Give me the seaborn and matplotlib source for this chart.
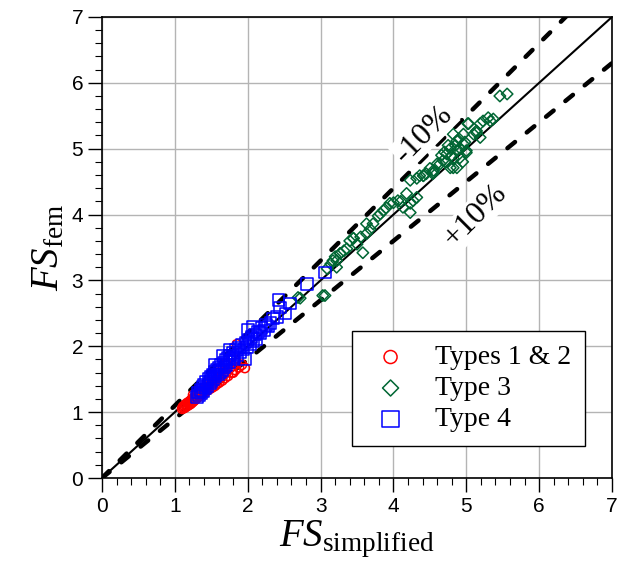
import numpy as np
import pandas as pd
import matplotlib
matplotlib.use('Agg')
import matplotlib.pyplot as plt
from matplotlib.ticker import MultipleLocator
import seaborn as sns

# data
red_x = [1.10, 1.11, 1.12, 1.13, 1.14, 1.15, 1.16, 1.17, 1.18, 1.19, 1.20, 1.21, 1.22, 1.23,
         1.24, 1.25, 1.26, 1.27, 1.28, 1.29, 1.30, 1.31, 1.32, 1.33, 1.34, 1.35, 1.36, 1.38,
         1.39, 1.40, 1.42, 1.43, 1.45, 1.46, 1.48, 1.49, 1.50, 1.52, 1.53, 1.55, 1.56, 1.58,
         1.60, 1.61, 1.63, 1.65, 1.67, 1.69, 1.71, 1.73, 1.75, 1.78, 1.80, 1.83, 1.85, 1.88,
         1.92, 1.96, 1.85, 1.80, 1.60, 1.45, 1.35, 1.25, 1.70, 1.78]
red_y = [1.05, 1.08, 1.06, 1.10, 1.07, 1.12, 1.09, 1.14, 1.10, 1.13, 1.16, 1.12, 1.18, 1.14,
         1.20, 1.16, 1.22, 1.18, 1.24, 1.20, 1.26, 1.22, 1.28, 1.24, 1.30, 1.26, 1.32, 1.28,
         1.34, 1.30, 1.36, 1.32, 1.38, 1.34, 1.40, 1.36, 1.43, 1.38, 1.46, 1.40, 1.48, 1.43,
         1.51, 1.45, 1.54, 1.48, 1.57, 1.52, 1.60, 1.55, 1.66, 1.60, 1.70, 1.64, 1.75, 1.68,
         1.72, 1.67, 2.03, 1.60, 1.60, 1.45, 1.36, 1.26, 1.73, 1.84]

green_x = [2.69, 2.72, 3.06, 3.03, 3.09, 3.17, 3.22, 3.22, 3.27, 3.27, 3.36, 3.40, 3.45, 3.45,
           3.58, 3.63, 3.63, 3.72, 3.79, 3.82, 3.86, 3.95, 4.00, 4.06, 4.13, 4.18, 4.23, 4.23,
           4.23, 4.27, 4.32, 4.32, 4.36, 4.41, 4.41, 4.54, 4.55, 4.55, 4.60, 4.64, 4.68, 4.73,
           4.78, 4.78, 4.82, 4.82, 4.82, 4.87, 4.87, 4.87, 4.91, 4.96, 4.96, 5.00, 5.00, 5.02,
           5.03, 5.10, 5.14, 5.14, 5.19, 5.19, 5.23, 5.30, 5.33, 5.37, 5.46, 5.56, 4.70, 4.75,
           4.85, 4.92, 4.98, 4.66, 4.72, 4.80, 4.90, 4.95, 3.50, 3.55, 3.68, 3.90, 4.10, 4.45,
           4.50, 3.32, 3.14, 3.20]
green_y = [2.74, 2.73, 2.77, 2.77, 3.18, 3.30, 3.30, 3.20, 3.41, 3.41, 3.48, 3.60, 3.64, 3.64,
           3.42, 3.71, 3.86, 3.86, 3.98, 4.01, 4.06, 4.17, 4.18, 4.21, 4.11, 4.32, 4.52, 4.03,
           4.17, 4.21, 4.55, 4.26, 4.59, 4.59, 4.59, 4.62, 4.67, 4.64, 4.77, 4.77, 4.82, 4.92,
           5.00, 4.71, 5.22, 4.71, 4.85, 5.12, 4.71, 4.97, 4.86, 5.07, 5.22, 4.97, 4.94, 5.38,
           5.38, 5.22, 5.24, 5.27, 5.17, 5.38, 5.42, 5.47, 5.42, 5.45, 5.80, 5.83, 4.95, 5.05,
           5.05, 5.00, 5.10, 4.90, 4.80, 4.90, 5.15, 4.80, 3.55, 3.66, 3.78, 4.10, 4.20, 4.62,
           4.70, 3.45, 3.25, 3.36]

blue_x = [1.30, 1.32, 1.33, 1.35, 1.36, 1.38, 1.39, 1.40, 1.42, 1.43, 1.45, 1.46, 1.48, 1.49,
          1.50, 1.52, 1.53, 1.55, 1.56, 1.58, 1.59, 1.60, 1.62, 1.63, 1.65, 1.66, 1.67, 1.68,
          1.70, 1.71, 1.73, 1.75, 1.76, 1.78, 1.80, 1.82, 1.84, 1.86, 1.88, 1.90, 1.92, 1.94,
          1.96, 1.97, 1.99, 2.01, 2.03, 2.05, 2.07, 2.08, 2.10, 2.12, 2.14, 2.17, 2.19, 2.22,
          2.25, 2.28, 2.31, 2.35, 2.40, 2.44, 2.42, 2.58, 2.81, 3.06, 2.52, 1.75, 1.55, 2.00]
blue_y = [1.23, 1.30, 1.26, 1.34, 1.29, 1.38, 1.32, 1.42, 1.36, 1.46, 1.40, 1.50, 1.44, 1.53,
          1.47, 1.57, 1.50, 1.61, 1.54, 1.65, 1.57, 1.68, 1.61, 1.72, 1.64, 1.86, 1.75, 1.68,
          1.79, 1.72, 1.82, 1.76, 1.86, 1.80, 1.90, 1.83, 1.94, 1.87, 1.98, 1.91, 2.02, 1.95,
          1.81, 2.06, 1.99, 2.10, 2.03, 2.14, 2.29, 2.07, 2.18, 2.11, 2.22, 2.20, 2.28, 2.24,
          2.32, 2.30, 2.35, 2.42, 2.44, 2.59, 2.70, 2.65, 2.95, 3.12, 2.50, 1.95, 1.72, 2.25]

line_x = [0, 7]
ratio_minus = 1.1   # -10 %
ratio_plus = 0.9    # +10 %

sns.set_theme(style='ticks')
plt.rcParams['font.family'] = ['Liberation Sans', 'DejaVu Sans']
plt.rcParams['text.color'] = 'black'
plt.rcParams['axes.labelcolor'] = 'black'
plt.rcParams['mathtext.fontset'] = 'custom'
plt.rcParams['mathtext.rm'] = 'Liberation Serif'
plt.rcParams['mathtext.it'] = 'Liberation Serif:italic'

fig = plt.figure(figsize=(6.22, 5.84), dpi=100)
ax = fig.add_axes([0.164, 0.1815, 0.82, 0.7895])

# reference lines
lx = np.array(line_x, dtype=float)
ax.plot(lx, lx, color='black', lw=1.5, zorder=2)
ax.plot(lx, lx * ratio_minus, color='black', lw=3.2, dashes=(2.2, 3.4),
        dash_capstyle='round', zorder=2)
ax.plot(lx, lx * ratio_plus, color='black', lw=3.2, dashes=(2.2, 3.4),
        dash_capstyle='round', zorder=2)

df_red = pd.DataFrame({'x': red_x, 'y': red_y})
df_green = pd.DataFrame({'x': green_x, 'y': green_y})
df_blue = pd.DataFrame({'x': blue_x, 'y': blue_y})

sns.scatterplot(data=df_red, x='x', y='y', marker='o', s=45, facecolor='none',
                edgecolor='#ff0000', linewidth=1.1, label='Types 1 & 2', ax=ax, zorder=3)
sns.scatterplot(data=df_green, x='x', y='y', marker='D', s=34, facecolor='none',
                edgecolor='#006633', linewidth=1.1, label='Type 3', ax=ax, zorder=3)
sns.scatterplot(data=df_blue, x='x', y='y', marker='s', s=70, facecolor='none',
                edgecolor='#0000ff', linewidth=1.1, label='Type 4', ax=ax, zorder=3)

ax.text(4.42, 5.22, '-10%', rotation=45, ha='center', va='center', fontsize=23,
        family='Liberation Serif', zorder=5,
        bbox=dict(facecolor='white', edgecolor='none', pad=1))
ax.text(5.12, 3.98, '+10%', rotation=45, ha='center', va='center', fontsize=23,
        family='Liberation Serif', zorder=5,
        bbox=dict(facecolor='white', edgecolor='none', pad=1))

ax.set_xlim(0, 7)
ax.set_ylim(0, 7)
ax.xaxis.set_major_locator(MultipleLocator(1))
ax.yaxis.set_major_locator(MultipleLocator(1))
ax.xaxis.set_minor_locator(MultipleLocator(0.2))
ax.yaxis.set_minor_locator(MultipleLocator(0.2))
ax.tick_params(which='major', direction='out', length=10, width=1, labelsize=15,
               color='black', labelcolor='black')
ax.tick_params(which='minor', direction='out', length=5, width=0.8, color='black')
ax.grid(True, which='major', color='#b4b4b4', lw=1)
for sp in ax.spines.values():
    sp.set_visible(True)
    sp.set_color('black')
    sp.set_linewidth(1.2)

ax.set_xlabel(r'$FS_{\mathrm{simplified}}$', fontsize=28, labelpad=2)
ax.set_ylabel(r'$FS_{\mathrm{fem}}$', fontsize=28, labelpad=4)

leg = ax.legend(loc='lower right', bbox_to_anchor=(0.947, 0.069), borderaxespad=0,
                fancybox=False, framealpha=1, edgecolor='black',
                prop={'family': 'Liberation Serif', 'size': 20},
                handletextpad=0.7, borderpad=0.5, labelspacing=0.2, handlelength=1.8,
                markerscale=1.4)
leg.get_frame().set_linewidth(1)

fig.savefig('out.png', dpi=100)
